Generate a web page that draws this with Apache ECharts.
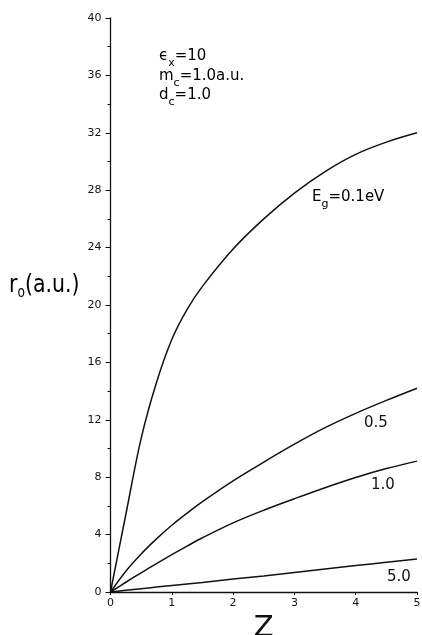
<!DOCTYPE html>
<html>
<head>
<meta charset="utf-8">
<title>r0 vs Z</title>
<script src="https://cdn.jsdelivr.net/npm/echarts@6/dist/echarts.min.js"></script>
<style>
  html, body { margin: 0; padding: 0; background: #fff; }
  #chart { width: 422px; height: 635px; }
</style>
</head>
<body>
<div id="chart"></div>
<script>
// Z values shared by all curves
const zValues = [0, 0.25, 0.5, 0.75, 1, 1.25, 1.5, 2, 2.5, 3, 3.5, 4, 4.5, 5];
// r0 (a.u.), one array per band gap
const rEg01 = [0, 5.4, 10.7, 14.6, 17.6, 19.7, 21.3, 23.9, 26.0, 27.8, 29.3, 30.5, 31.35, 32.0];
const rEg05 = [0, 1.45, 2.65, 3.7, 4.65, 5.5, 6.3, 7.75, 9.05, 10.3, 11.45, 12.45, 13.35, 14.2];
const rEg10 = [0, 0.68, 1.34, 1.98, 2.6, 3.2, 3.78, 4.82, 5.7, 6.5, 7.27, 7.98, 8.6, 9.12];
const rEg50 = [0, 0.12, 0.23, 0.34, 0.45, 0.56, 0.67, 0.9, 1.12, 1.36, 1.6, 1.84, 2.07, 2.3];
const xTicks = [0, 1, 2, 3, 4, 5];
const yTicks = [0, 4, 8, 12, 16, 20, 24, 28, 32, 36, 40];

const FONT = 'DejaVu Sans';
const INK = '#111';

const toPairs = (ys) => zValues.map((z, i) => [z, ys[i]]);

const lineSeries = (name, ys) => ({
  name: name,
  type: 'line',
  data: toPairs(ys),
  smooth: 0.35,
  showSymbol: false,
  lineStyle: { color: INK, width: 1.5 },
  silent: true
});

// rich styles for subscripts
const rich = (big, small, drop) => ({
  t: { fontSize: big, fontFamily: FONT, color: INK, verticalAlign: 'top', lineHeight: big + 2 },
  s: { fontSize: small, fontFamily: FONT, color: INK, verticalAlign: 'top', lineHeight: small + 1, padding: [drop, 0, 0, 0] }
});

const chart = echarts.init(document.getElementById('chart'));
chart.setOption({
  animation: false,
  backgroundColor: '#fff',
  grid: { left: 110.5, right: 5, top: 18, bottom: 43, outerBoundsMode: 'none' },
  xAxis: {
    type: 'value',
    min: xTicks[0],
    max: xTicks[xTicks.length - 1],
    interval: 1,
    name: 'Z',
    nameLocation: 'middle',
    nameGap: 17,
    nameTextStyle: { fontSize: 29, fontFamily: FONT, color: INK },
    axisLine: { lineStyle: { color: INK, width: 1.3 } },
    axisTick: { length: 3, lineStyle: { color: INK } },
    axisLabel: { fontSize: 11, fontFamily: FONT, color: INK, margin: 6 },
    splitLine: { show: false }
  },
  yAxis: {
    type: 'value',
    min: yTicks[0],
    max: yTicks[yTicks.length - 1],
    interval: 4,
    axisLine: { show: true, lineStyle: { color: INK, width: 1.3 } },
    axisTick: { show: true, length: 5, lineStyle: { color: INK } },
    minorTick: { show: true, splitNumber: 2, length: 3, lineStyle: { color: INK } },
    axisLabel: { fontSize: 11, fontFamily: FONT, color: INK, margin: 9 },
    splitLine: { show: false }
  },
  series: [
    lineSeries('Eg=0.1eV', rEg01),
    lineSeries('0.5', rEg05),
    lineSeries('1.0', rEg10),
    lineSeries('5.0', rEg50)
  ],
  graphic: [
    // y axis name r_o(a.u.)
    { type: 'text', x: 9, y: 273, scaleX: 0.82,
      style: { text: '{t|r}{s|o}{t|(a.u.)}', rich: rich(25, 15, 13) } },
    // parameters
    { type: 'text', x: 159, y: 49,
      style: { text: '{t|ϵ}{s|x}{t|=10}', rich: rich(15, 11, 9) } },
    { type: 'text', x: 159, y: 69,
      style: { text: '{t|m}{s|c}{t|=1.0a.u.}', rich: rich(15, 11, 9) } },
    { type: 'text', x: 159, y: 88,
      style: { text: '{t|d}{s|c}{t|=1.0}', rich: rich(15, 11, 9) } },
    // curve labels
    { type: 'text', x: 312, y: 190,
      style: { text: '{t|E}{s|g}{t|=0.1eV}', rich: rich(15, 11, 9) } },
    { type: 'text', x: 364, y: 416,
      style: { text: '0.5', fontSize: 15, fontFamily: FONT, fill: INK } },
    { type: 'text', x: 371, y: 478,
      style: { text: '1.0', fontSize: 15, fontFamily: FONT, fill: INK } },
    { type: 'text', x: 387, y: 570,
      style: { text: '5.0', fontSize: 15, fontFamily: FONT, fill: INK } }
  ]
});
</script>
</body>
</html>
